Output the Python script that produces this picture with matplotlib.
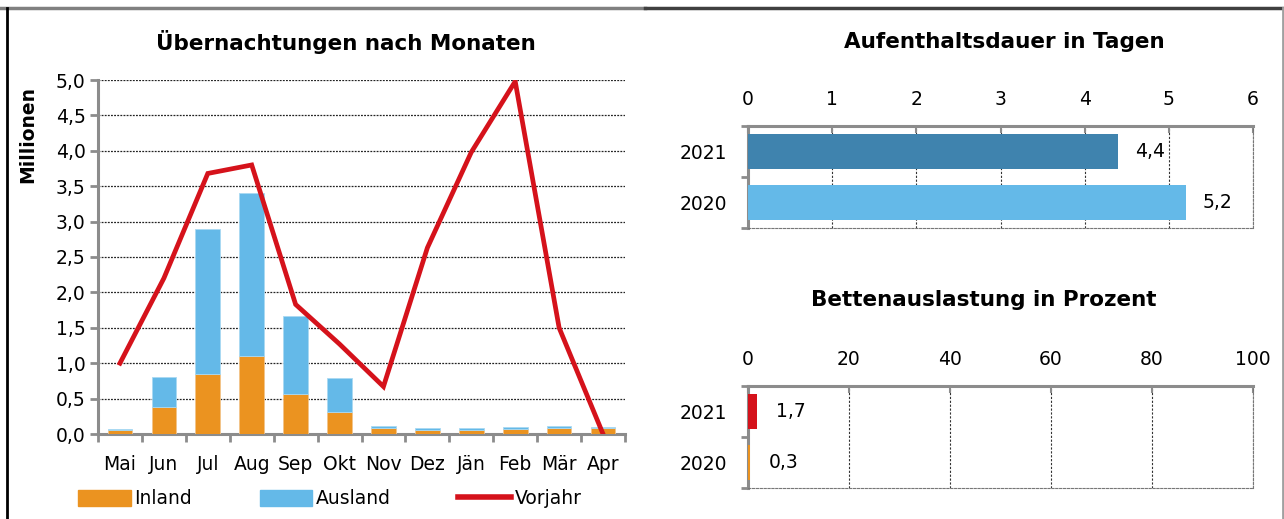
import numpy as np
import matplotlib.pyplot as plt
from matplotlib.lines import Line2D
from matplotlib.patches import Patch

plt.rcParams['font.family'] = 'DejaVu Sans'

# Übernachtungen nach Monaten (Mio.)
monate = ['Mai', 'Jun', 'Jul', 'Aug', 'Sep', 'Okt', 'Nov', 'Dez', 'Jän', 'Feb', 'Mär', 'Apr']
inland = [0.05, 0.38, 0.85, 1.10, 0.57, 0.31, 0.08, 0.05, 0.06, 0.07, 0.09, 0.08]
ausland = [0.02, 0.43, 2.04, 2.30, 1.10, 0.48, 0.04, 0.03, 0.03, 0.03, 0.03, 0.02]
vorjahr = [1.00, 2.20, 3.68, 3.80, 1.83, 1.27, 0.67, 2.63, 3.98, 4.98, 1.50, 0.00]

# Aufenthaltsdauer / Bettenauslastung
jahre = ['2020', '2021']
dauer = [5.2, 4.4]
auslastung = [0.3, 1.7]

orange = '#EB9320'
hellblau = '#64B9E8'
rot = '#D5121B'
dunkelblau = '#3F83AE'
grau = '#8C8C8C'
fs = 13.5
W, H = 1284, 519

fig = plt.figure(figsize=(12.84, 5.19), dpi=100)

# Rahmen
fig.add_artist(Line2D([0, 645 / W], [1 - 7.5 / H] * 2, color='#808080', lw=2.5))
fig.add_artist(Line2D([645 / W, 1], [1 - 7.5 / H] * 2, color='#404040', lw=2.5))
fig.add_artist(Line2D([6.5 / W] * 2, [0, 1 - 7.5 / H], color='black', lw=2))
fig.add_artist(Line2D([1282.5 / W] * 2, [0, 1 - 7.5 / H], color='#A0A0A0', lw=2))

# ---- linkes Diagramm ----
ax = fig.add_axes([98 / W, 1 - 434 / H, 527 / W, 354 / H])
x = np.arange(len(monate))
ax.bar(x, inland, width=0.56, color=orange, edgecolor='#F2C48A', linewidth=0.6, zorder=3)
ax.bar(x, ausland, width=0.56, bottom=inland, color=hellblau, edgecolor='#A9D9F2', linewidth=0.6, zorder=3)
ax.plot(x, vorjahr, color=rot, lw=3.4, zorder=4, solid_joinstyle='miter')
ax.set_xlim(-0.5, len(monate) - 0.5)
ax.set_ylim(0, 5)
yt = np.arange(0, 5.01, 0.5)
ax.set_yticks(yt)
ax.set_yticklabels([f'{v:.1f}'.replace('.', ',') for v in yt], fontsize=fs)
ax.set_xticks(x)
ax.set_xticklabels(monate, fontsize=fs)
ax.set_xticks(np.arange(-0.5, len(monate)), minor=True)
ax.tick_params(axis='x', which='major', length=0, pad=15)
ax.tick_params(axis='x', which='minor', length=6, width=2, color=grau, direction='out')
ax.tick_params(axis='y', length=6, width=2, color=grau, direction='out', pad=3)
ax.yaxis.grid(True, color='#222222', linestyle=(0, (1.5, 1)), linewidth=0.9, zorder=0)
for s in ['top', 'right']:
    ax.spines[s].set_visible(False)
for s in ['left', 'bottom']:
    ax.spines[s].set_color(grau)
    ax.spines[s].set_linewidth(2.2)
fig.text(346 / W, 1 - 42 / H, 'Übernachtungen nach Monaten', fontsize=15.5, fontweight='bold',
         ha='center', va='center')
ax.set_ylabel('Millionen', fontsize=fs, fontweight='bold')
ax.yaxis.set_label_coords(-0.116, 0.845)

handles = [Patch(color=orange), Patch(color=hellblau), Line2D([], [], color=rot, lw=4)]
fig.legend(handles, ['Inland', 'Ausland', 'Vorjahr'], loc='center left', ncol=3, frameon=False,
           bbox_to_anchor=(78 / W, 1 - 499 / H), borderaxespad=0, borderpad=0,
           fontsize=fs, handlelength=2.8, handleheight=0.9, handletextpad=0.2,
           columnspacing=3.6)

# ---- rechte Diagramme ----
def balken(ax, werte, farben, xmax, step, labelpad):
    y = np.arange(len(jahre))
    ax.barh(y, werte, height=0.67, color=farben, zorder=3)
    ax.set_xlim(0, xmax)
    ax.set_ylim(-0.5, len(jahre) - 0.5)
    ax.set_yticks(y)
    ax.set_yticklabels(jahre, fontsize=fs)
    ax.set_yticks(np.arange(-0.5, len(jahre)), minor=True)
    ax.tick_params(axis='y', which='major', length=0, pad=15)
    ax.tick_params(axis='y', which='minor', length=5, width=2, color=grau, direction='out')
    ax.xaxis.tick_top()
    ax.set_xticks(np.arange(0, xmax + 0.01, step))
    ax.tick_params(axis='x', labelsize=fs, length=5, width=1.5, color=grau, direction='in', pad=12)
    ax.xaxis.grid(True, color='#333333', linestyle=(0, (2, 1.5)), linewidth=0.8, zorder=0)
    for s in ['top', 'left']:
        ax.spines[s].set_color(grau)
        ax.spines[s].set_linewidth(2.2)
    for s in ['bottom', 'right']:
        ax.spines[s].set_color('#777777')
        ax.spines[s].set_linestyle((0, (2, 1.5)))
        ax.spines[s].set_linewidth(0.8)
    for yi, w in zip(y, werte):
        ax.text(w + labelpad, yi, f'{w:.1f}'.replace('.', ','), va='center', ha='left', fontsize=fs)

ax2 = fig.add_axes([748 / W, 1 - 228 / H, 505 / W, 102 / H])
balken(ax2, dauer, [hellblau, dunkelblau], 6, 1, 0.2)
fig.text(1004 / W, 1 - 42 / H, 'Aufenthaltsdauer in Tagen', fontsize=15.5, fontweight='bold',
         ha='center', va='center')

ax3 = fig.add_axes([748 / W, 1 - 488 / H, 505 / W, 102 / H])
balken(ax3, auslastung, [orange, rot], 100, 20, 3.8)
fig.text(984 / W, 1 - 300 / H, 'Bettenauslastung in Prozent', fontsize=15.5, fontweight='bold',
         ha='center', va='center')

fig.savefig('out.png', dpi=100)
